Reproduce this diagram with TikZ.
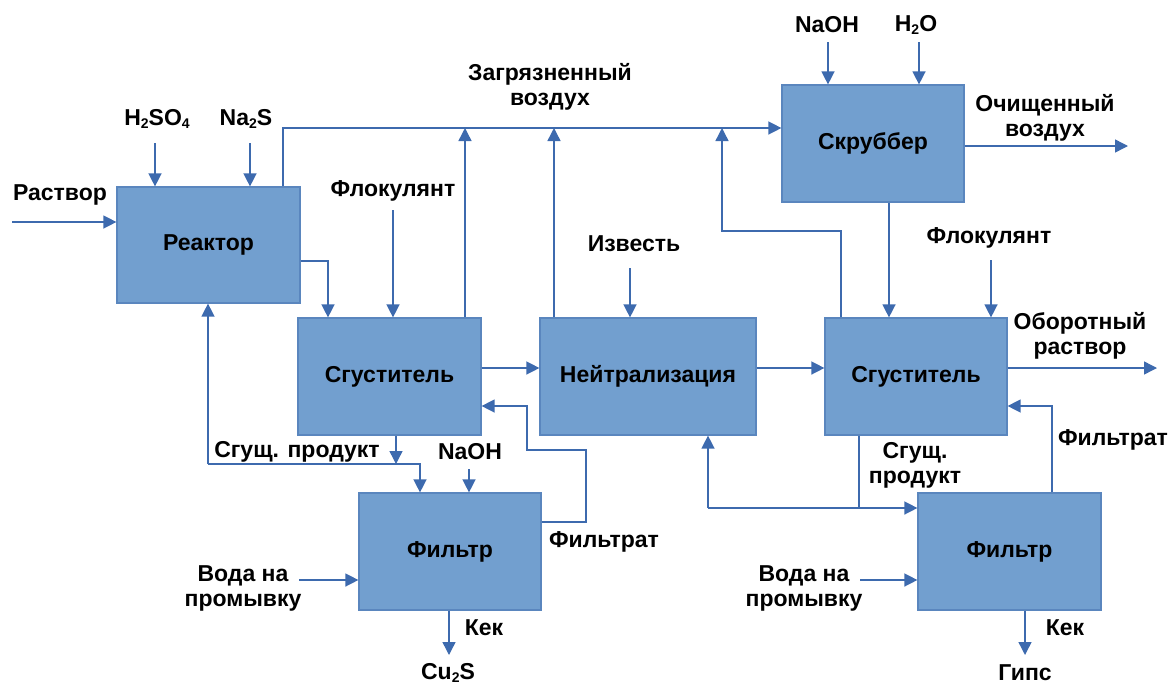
\documentclass[tikz,border=0pt]{standalone}
\usepackage{fontspec}
\setmainfont{Liberation Sans}
\usetikzlibrary{arrows.meta,calc}

\definecolor{boxfill}{HTML}{729FCF}
\definecolor{boxline}{HTML}{5A86BE}
\definecolor{flow}{HTML}{3D6AAE}
\newcommand{\lblfont}{\bfseries\fontsize{23}{25}\selectfont}
\newcommand{\chemsub}[1]{\raisebox{-0.12em}{\fontsize{14}{14}\selectfont #1}}

\begin{document}
\begin{tikzpicture}[x=1pt,y=-1pt,
  unit/.style={draw=boxline, line width=1.2pt, fill=boxfill, minimum height=117pt,
    inner sep=0pt, font=\lblfont},
  lbl/.style={font=\lblfont, text=black, inner sep=0pt, align=center},
  flowline/.style={draw=flow, line width=1.4pt},
  arr/.style={flowline, -{Triangle[length=13pt,width=13pt]}},
]
\useasboundingbox (0,0) rectangle (1173,686);

% process units
\node[unit, minimum width=183pt, minimum height=116pt] (reactor) at (208.5,245) {Реактор};
\node[unit, minimum width=183pt] (thick1) at (389.5,376.5) {Сгуститель};
\node[unit, minimum width=216pt] (neutral) at (648,376.5) {Нейтрализация};
\node[unit, minimum width=182pt] (thick2) at (916,376.5) {Сгуститель};
\node[unit, minimum width=182pt] (scrubber) at (873,143.5) {Скруббер};
\node[unit, minimum width=182pt] (filter1) at (450,551.5) {Фильтр};
\node[unit, minimum width=183pt] (filter2) at (1009.5,551.5) {Фильтр};

% stream labels
\node[lbl] (solL) at (60,195) {Раствор};
\node[lbl] (h2so4L) at (157,119) {H\chemsub{2}SO\chemsub{4}};
\node[lbl] (na2sL) at (246,119) {Na\chemsub{2}S};
\node[lbl] (dirtyL) at (550,87) {Загрязненный\\воздух};
\node[lbl] (floc1L) at (393,191) {Флокулянт};
\node[lbl] (limeL) at (634,244) {Известь};
\node[lbl] (naoh2L) at (827,25) {NaOH};
\node[lbl] (h2oL) at (916,25) {H\chemsub{2}O};
\node[lbl] (cleanL) at (1045,118) {Очищенный\\воздух};
\node[lbl] (floc2L) at (989,238) {Флокулянт};
\node[lbl] (recL) at (1080,336) {Оборотный\\раствор};
\node[lbl] (und1L) at (297,452) {Сгущ. продукт};
\node[lbl] (naoh1L) at (470,452) {NaOH};
\node[lbl] (filt1L) at (604,542) {Фильтрат};
\node[lbl] (wash1L) at (243,588) {Вода на\\промывку};
\node[lbl] (cake1L) at (484,628) {Кек};
\node[lbl] (cu2sL) at (448,673) {Cu\chemsub{2}S};
\node[lbl] (und2L) at (915,465) {Сгущ.\\продукт};
\node[lbl] (filt2L) at (1113,440) {Фильтрат};
\node[lbl] (wash2L) at (804,588) {Вода на\\промывку};
\node[lbl] (cake2L) at (1065,628) {Кек};
\node[lbl] (gypL) at (1025,673) {Гипс};

% free ends and bends
\coordinate (solIn) at (12,222);
\coordinate (h2so4In) at (155,143);
\coordinate (na2sIn) at (250,143);
\coordinate (airUp) at (283,128);
\coordinate (j1) at (465,128);
\coordinate (j2) at (554,128);
\coordinate (j3a) at (841,231);
\coordinate (j3) at (722,128);
\coordinate (r2t) at (328,261);
\coordinate (floc1In) at (393,210);
\coordinate (sp1) at (396,464);
\coordinate (sp1L) at (208,464);
\coordinate (sp1R) at (420,464);
\coordinate (naoh1In) at (469,469);
\coordinate (f1a) at (586,522);
\coordinate (f1b) at (586,450);
\coordinate (f1c) at (527,450);
\coordinate (f1d) at (527,406);
\coordinate (row) at (0,368);
\coordinate (limeIn) at (630,268);
\coordinate (sc) at (889,0);
\coordinate (floc2In) at (991,260);
\coordinate (recOut) at (1157,368);
\coordinate (f2) at (1052,406);
\coordinate (s2) at (859,508);
\coordinate (s2L) at (708,508);
\coordinate (wash1In) at (299,580);
\coordinate (cake1Out) at (449,655);
\coordinate (wash2In) at (860,580);
\coordinate (cake2Out) at (1025,655);
\coordinate (naoh2In) at (828,42);
\coordinate (h2oIn) at (919,42);
\coordinate (cleanOut) at (1128,146);

% reactor feeds
\draw[arr] (solIn) -- (solIn -| reactor.west);
\draw[arr] (h2so4In) -- (h2so4In |- reactor.north);
\draw[arr] (na2sIn) -- (na2sIn |- reactor.north);

% off-gas collector to the scrubber
\draw[arr] (reactor.north -| airUp) -- (airUp) -- (airUp -| scrubber.west);
\draw[arr] (thick1.north -| j1) -- (j1);
\draw[arr] (neutral.north -| j2) -- (j2);
\draw[arr] (thick2.north -| j3a) -- (j3a) -- (j3a -| j3) -- (j3);

% first thickening and filtration
\draw[arr] (reactor.east |- r2t) -- (r2t) -- (r2t |- thick1.north);
\draw[arr] (floc1In) -- (floc1In |- thick1.north);
\draw[arr] (thick1.south -| sp1) -- (sp1);
\draw[arr] (sp1L) -- (sp1R) -- (sp1R |- filter1.north);
\draw[arr] (sp1L) -- (reactor.south -| sp1L);
\draw[arr] (naoh1In) -- (naoh1In |- filter1.north);
\draw[arr] (filter1.east |- f1a) -- (f1a) -- (f1b) -- (f1c) -- (f1d) -- (f1d -| thick1.east);
\draw[arr] (wash1In) -- (wash1In -| filter1.west);
\draw[arr] (filter1.south -| cake1Out) -- (cake1Out);

% neutralisation and second thickening
\draw[arr] (thick1.east |- row) -- (neutral.west |- row);
\draw[arr] (limeIn) -- (limeIn |- neutral.north);
\draw[arr] (neutral.east |- row) -- (thick2.west |- row);
\draw[arr] (scrubber.south -| sc) -- (thick2.north -| sc);
\draw[arr] (floc2In) -- (floc2In |- thick2.north);
\draw[arr] (thick2.east |- recOut) -- (recOut);
\draw[arr] (filter2.north -| f2) -- (f2) -- (f2 -| thick2.east);
\draw[flowline] (thick2.south -| s2) -- (s2);
\draw[arr] (s2L) -- (s2L -| filter2.west);
\draw[arr] (s2L) -- (neutral.south -| s2L);
\draw[arr] (wash2In) -- (wash2In -| filter2.west);
\draw[arr] (filter2.south -| cake2Out) -- (cake2Out);

% scrubber
\draw[arr] (naoh2In) -- (naoh2In |- scrubber.north);
\draw[arr] (h2oIn) -- (h2oIn |- scrubber.north);
\draw[arr] (scrubber.east |- cleanOut) -- (cleanOut);
\end{tikzpicture}
\end{document}
